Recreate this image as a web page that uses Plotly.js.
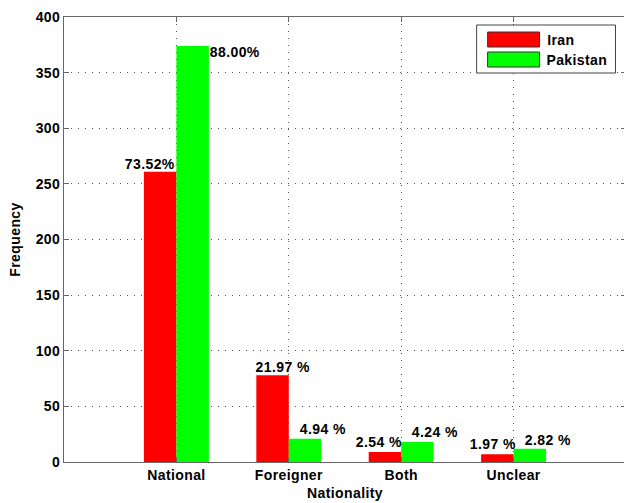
<!DOCTYPE html>
<html>
<head>
<meta charset="utf-8">
<script src="https://cdn.plot.ly/plotly-3.0.1.min.js"></script>
<style>
  html, body { margin: 0; padding: 0; overflow: hidden; background: #fff; }
  #chart text { letter-spacing: 0.4px; }
</style>
</head>
<body>
<div id="chart"></div>
<script>
// ---- data ----
var categories = ["National", "Foreigner", "Both", "Unclear"];
var iranValues = [261, 78, 9, 7];
var pakistanValues = [374, 21, 18, 12];
var iranLabels = ["73.52%", "21.97 %", "2.54 %", "1.97 %"];
var pakistanLabels = ["88.00%", "4.94 %", "4.24 %", "2.82 %"];
var yTicks = [0, 50, 100, 150, 200, 250, 300, 350, 400];

// ---- label placement (pixel offsets from category centre / bar top) ----
var iranDx = [-26, -6, -22, -21];
var iranDy = [8, 8, 10, 10];
var pakDx = [59, 34, 34, 34];
var pakDy = [-6, 10, 10, 9];

var W = 628, H = 503;
var M = {l: 64, r: 1.5, t: 17, b: 41};
var plotW = W - M.l - M.r, plotH = H - M.t - M.b;
function px(x) { return (x - M.l) / plotW; }
function py(y) { return (H - M.b - y) / plotH; }

var xIdx = categories.map(function (c, i) { return i + 1; });
var font = {family: "Liberation Sans, Arial, sans-serif", size: 14, color: "#000", weight: "bold"};

var traces = [
  {type: "bar", name: "Iran", x: xIdx, y: iranValues,
   marker: {color: "#ff0000", line: {color: "#ff0000", width: 0}}, showlegend: false},
  {type: "bar", name: "Pakistan", x: xIdx, y: pakistanValues,
   marker: {color: "#00ff00", line: {color: "#00ff00", width: 0}}, showlegend: false}
];

var annotations = [];
xIdx.forEach(function (x, i) {
  annotations.push({x: x, y: iranValues[i], xref: "x", yref: "y", text: iranLabels[i],
    showarrow: false, xanchor: "center", yanchor: "middle", xshift: iranDx[i], yshift: iranDy[i], font: font});
  annotations.push({x: x, y: pakistanValues[i], xref: "x", yref: "y", text: pakistanLabels[i],
    showarrow: false, xanchor: "center", yanchor: "middle", xshift: pakDx[i], yshift: pakDy[i], font: font});
});

// custom legend (MATLAB style)
var legendItems = [{name: "Iran", color: "#ff0000"}, {name: "Pakistan", color: "#00ff00"}];
var shapes = [{type: "rect", xref: "paper", yref: "paper", x0: px(477), x1: px(616), y0: py(73), y1: py(25),
  line: {color: "#444", width: 1}, fillcolor: "#fff", layer: "above"}];
legendItems.forEach(function (it, k) {
  var top = 32 + k * 20;
  shapes.push({type: "rect", xref: "paper", yref: "paper", x0: px(488), x1: px(540), y0: py(top + 15), y1: py(top),
    line: {color: "#333", width: 1}, fillcolor: it.color, layer: "above"});
  annotations.push({xref: "paper", yref: "paper", x: px(546), y: py(top + 7.5), text: it.name,
    showarrow: false, xanchor: "left", yanchor: "middle", font: font});
});

var layout = {
  width: W, height: H,
  margin: M,
  paper_bgcolor: "#fff", plot_bgcolor: "#fff",
  barmode: "group", bargap: 0.422, bargroupgap: 0,
  font: font,
  showlegend: false,
  xaxis: {
    range: [0, 5], tickvals: xIdx, ticktext: categories,
    showgrid: true, gridcolor: "#555", griddash: "1px,6px", gridwidth: 1,
    showline: true, linecolor: "#666", linewidth: 1, mirror: "ticks",
    ticks: "inside", ticklen: 5, tickcolor: "#666",
    zeroline: false, tickfont: font,
    title: {text: "Nationality", font: font, standoff: 6}
  },
  yaxis: {
    range: [0, 400], tickvals: yTicks,
    showgrid: true, gridcolor: "#555", griddash: "1px,6px", gridwidth: 1,
    showline: true, linecolor: "#666", linewidth: 1, mirror: "ticks",
    ticks: "inside", ticklen: 5, tickcolor: "#666",
    zeroline: false, tickfont: font,
    title: {text: "Frequency", font: font, standoff: 12}
  },
  annotations: annotations,
  shapes: shapes
};

Plotly.newPlot("chart", traces, layout, {displayModeBar: false, staticPlot: true});
</script>
</body>
</html>
